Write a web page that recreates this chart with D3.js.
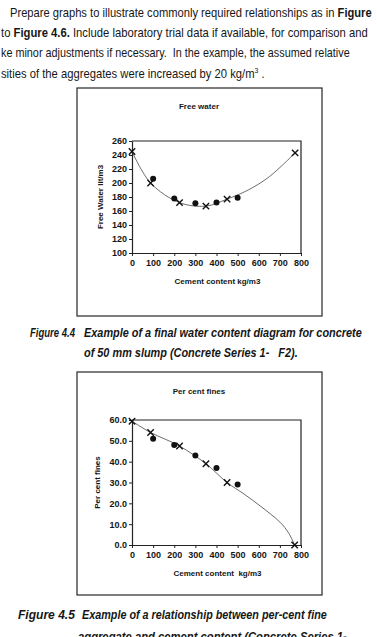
<!DOCTYPE html>
<html>
<head>
<meta charset="utf-8">
<script src="https://cdn.jsdelivr.net/npm/d3@7"></script>
<style>
  body { margin: 0; background: #fff; }
  svg { display: block; font-family: "Liberation Sans", Arial, sans-serif; }
  text { white-space: pre; }
</style>
</head>
<body>
<svg id="page" width="377" height="637"></svg>
<script>
/******************** DATA ********************/

var cementTicks = [0, 100, 200, 300, 400, 500, 600, 700, 800];

// Figure 4.4 - free water (lit/m3)
var waterTicks = [100, 120, 140, 160, 180, 200, 220, 240, 260];
var waterCrossX = [0, 88, 225, 350, 450, 772];
var waterCrossY = [245, 200, 172, 167, 177, 243];
var waterDotX = [100, 200, 300, 400, 500];
var waterDotY = [206, 178, 171, 172, 179];
// smoothed line
var waterCurveX = [0, 88, 225, 350, 450, 550, 650, 772];
var waterCurveY = [245, 200, 172, 167, 177, 190, 209, 243];

// Figure 4.5 - per cent fines
var finesTicks = [0, 10, 20, 30, 40, 50, 60];
var finesCrossX = [0, 88, 225, 350, 450, 770];
var finesCrossY = [59.4, 54, 47.5, 39, 30, 0];
var finesDotX = [100, 200, 300, 400, 500];
var finesDotY = [51, 48, 43, 37, 29];
var finesCurveX = [0, 88, 225, 350, 450, 530, 610, 700, 740, 770];
var finesCurveY = [59.4, 54, 47.5, 39, 30, 24.5, 18.5, 11, 6, 0];

/******************** PAGE TEXT ********************/

var svg = d3.select("#page");
svg.append("rect").attr("width", 377).attr("height", 637).attr("fill", "#fff");

var ink = "#161616";

// scanned text is squeezed sideways, so each line is scaled to its measured width
function textLine(x, y, size, width, parts, style) {
  var t = svg.append("text")
    .attr("x", 0).attr("y", 0)
    .attr("font-size", size)
    .attr("fill", ink);
  if (style) t.attr("font-style", style.italic ? "italic" : null)
              .attr("font-weight", style.bold ? "bold" : null);
  parts.forEach(function(p) {
    var s = t.append("tspan").text(p.t);
    if (p.b) s.attr("font-weight", "bold");
    if (p.dy) s.attr("dy", p.dy);
    if (p.fs) s.attr("font-size", p.fs);
  });
  var w = t.node().getComputedTextLength();
  t.attr("transform", "translate(" + x + "," + y + ") scale(" + (width / w) + ",1)");
  return t;
}

textLine(10, 17, 13, 362, [
  { t: "Prepare graphs to illustrate commonly required relationships as in " },
  { t: "Figure", b: true }
]);
textLine(1, 37, 13, 367, [
  { t: "to " }, { t: "Figure 4.6.", b: true },
  { t: " Include laboratory trial data if available, for comparison and" }
]);
textLine(1, 57, 13, 349, [
  { t: "ke minor adjustments if necessary.  In the example, the assumed relative" }
]);
textLine(1, 78, 13, 264, [
  { t: "sities of the aggregates were increased by 20 kg/m" },
  { t: "3", fs: 8, dy: -5 },
  { t: " .", dy: 5 }
]);

var cap = { bold: true, italic: true };
textLine(30, 337, 12, 45, [{ t: "Figure 4.4" }], cap);
textLine(84, 337, 12, 278, [{ t: "Example of a final water content diagram for concrete" }], cap);
textLine(84, 357, 12, 214, [{ t: "of 50 mm slump (Concrete Series 1-   F2)." }], cap);
textLine(18, 619, 12, 57, [{ t: "Figure 4.5" }], cap);
textLine(82, 619, 12, 245, [{ t: "Example of a relationship between per-cent fine" }], cap);
textLine(78, 641, 12, 269, [{ t: "aggregate and cement content (Concrete Series 1-" }], cap);

/******************** CHARTS ********************/

function drawChart(o) {
  var g = svg.append("g");

  // outer chart frame
  g.append("rect")
    .attr("x", o.box[0]).attr("y", o.box[1])
    .attr("width", o.box[2] - o.box[0]).attr("height", o.box[3] - o.box[1])
    .attr("fill", "none").attr("stroke", "#262626").attr("stroke-width", 1.2);

  var x = d3.scaleLinear().domain([0, 800]).range([o.plot.left, o.plot.right]);
  var y = d3.scaleLinear().domain(o.yDomain).range([o.plot.bottom, o.plot.top]);

  // plot area border (top + right)
  g.append("path")
    .attr("d", "M" + x(0) + "," + y(o.yDomain[1]) + "H" + x(800) + "V" + y(o.yDomain[0]))
    .attr("fill", "none").attr("stroke", "#222").attr("stroke-width", 1.2);

  var xAxis = g.append("g")
    .attr("transform", "translate(0," + y(o.yDomain[0]) + ")")
    .call(d3.axisBottom(x).tickValues(cementTicks).tickSize(3).tickSizeOuter(0).tickPadding(4));
  var yAxis = g.append("g")
    .attr("transform", "translate(" + x(0) + ",0)")
    .call(d3.axisLeft(y).tickValues(o.yTicks).tickSize(3).tickSizeOuter(0).tickPadding(2)
      .tickFormat(o.yFormat));

  [xAxis, yAxis].forEach(function(a) {
    a.select(".domain").attr("stroke", "#222").attr("stroke-width", 1.2);
    a.selectAll(".tick line").attr("stroke", "#222");
    a.selectAll(".tick text")
      .attr("font-family", "'Liberation Sans', Arial, sans-serif")
      .attr("font-size", 9).attr("font-weight", "bold").attr("fill", ink);
  });

  // titles
  g.append("text")
    .attr("x", o.titleX).attr("y", o.titleY)
    .attr("text-anchor", "middle").attr("font-size", 8).attr("font-weight", "bold")
    .attr("fill", ink).text(o.title);
  g.append("text")
    .attr("x", (x(0) + x(800)) / 2 + 1).attr("y", y(o.yDomain[0]) + 31)
    .attr("text-anchor", "middle").attr("font-size", 8).attr("font-weight", "bold")
    .attr("fill", ink).text(o.xTitle);
  g.append("text")
    .attr("transform", "translate(" + o.yTitleX + "," + ((o.plot.top + o.plot.bottom) / 2) + ") rotate(-90)")
    .attr("text-anchor", "middle").attr("font-size", 8).attr("font-weight", "bold")
    .attr("fill", ink).text(o.yTitle);

  var pairs = function(xs, ys) { return xs.map(function(d, i) { return [d, ys[i]]; }); };
  var crosses = pairs(o.crossX, o.crossY);
  var dots = pairs(o.dotX, o.dotY);
  var curve = pairs(o.curveX, o.curveY);

  var line = d3.line()
    .x(function(d) { return x(d[0]); })
    .y(function(d) { return y(d[1]); })
    .curve(d3.curveCatmullRom.alpha(0.5));
  g.append("path").datum(curve)
    .attr("d", line)
    .attr("fill", "none").attr("stroke", "#5a5a5a").attr("stroke-width", 0.9);

  g.selectAll(".dot").data(dots).enter().append("circle")
    .attr("class", "dot")
    .attr("cx", function(d) { return x(d[0]); })
    .attr("cy", function(d) { return y(d[1]); })
    .attr("r", 3).attr("fill", "#111");

  var s = 3.2;
  g.selectAll(".cross").data(crosses).enter().append("path")
    .attr("class", "cross")
    .attr("d", function(d) {
      var cx = x(d[0]), cy = y(d[1]);
      return "M" + (cx - s) + "," + (cy - s) + "L" + (cx + s) + "," + (cy + s) +
             "M" + (cx - s) + "," + (cy + s) + "L" + (cx + s) + "," + (cy - s);
    })
    .attr("stroke", "#111").attr("stroke-width", 1.4).attr("fill", "none");
}

drawChart({
  box: [77, 88, 322, 316],
  plot: { left: 132, right: 301, top: 141, bottom: 253 },
  yDomain: [100, 260], yTicks: waterTicks, yFormat: d3.format("d"),
  title: "Free water", titleX: 199, titleY: 109,
  xTitle: "Cement content kg/m3",
  yTitle: "Free Water lit/m3", yTitleX: 103,
  crossX: waterCrossX, crossY: waterCrossY, dotX: waterDotX, dotY: waterDotY,
  curveX: waterCurveX, curveY: waterCurveY
});

drawChart({
  box: [77, 372, 322, 595],
  plot: { left: 132, right: 301, top: 420, bottom: 545 },
  yDomain: [0, 60], yTicks: finesTicks, yFormat: d3.format(".1f"),
  title: "Per cent fines", titleX: 199, titleY: 394,
  xTitle: "Cement content  kg/m3",
  yTitle: "Per cent fines", yTitleX: 100,
  crossX: finesCrossX, crossY: finesCrossY, dotX: finesDotX, dotY: finesDotY,
  curveX: finesCurveX, curveY: finesCurveY
});
</script>
</body>
</html>
